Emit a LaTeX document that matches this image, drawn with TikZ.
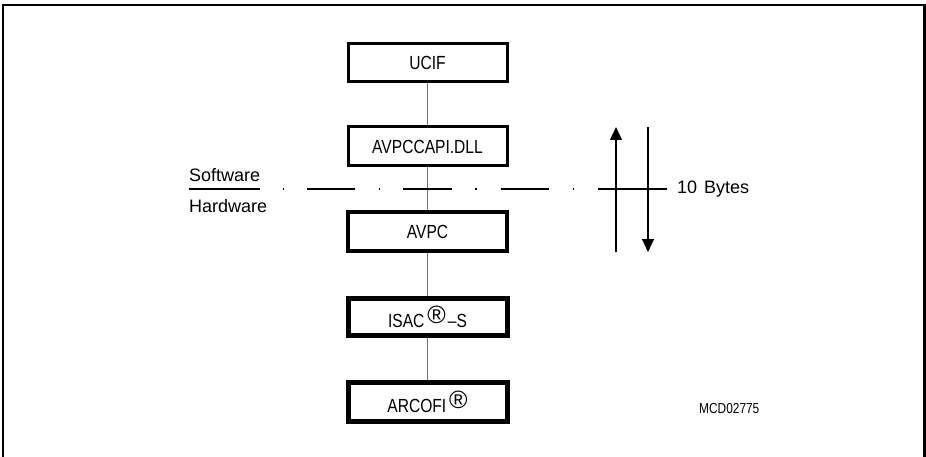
\documentclass[tikz,border=0pt]{standalone}
\usepackage{fontspec}
\setmainfont{Liberation Sans}
\usetikzlibrary{arrows.meta}
\newcommand{\regmk}{\raisebox{4pt}{\fontsize{25}{25}\selectfont ®}}
\newcommand{\nar}[1]{\scalebox{0.82}[1]{#1}}
\begin{document}
\begin{tikzpicture}[x=1pt,y=-1pt,
  blk/.style={draw,minimum width=159pt,inner sep=0pt,font=\fontsize{19}{19}\selectfont},
  thinb/.style={blk,line width=3pt},
  midb/.style={blk,line width=4pt},
  thickb/.style={blk,line width=5pt},
  conn/.style={draw=black!55,line width=1.5pt},
  lbl/.style={anchor=west,inner sep=0pt,font=\fontsize{18}{18}\selectfont},
  arr/.style={line width=1.2pt,-{Triangle[width=12pt,length=13pt]}}]
\useasboundingbox (0,0) rectangle (926,457);
\draw[line width=2.5pt] (3,457) -- (3,5) -- (924.5,5) -- (924.5,457);
\node[thinb,minimum height=38pt] (ucif) at (427.5,62.5) {\nar{UCIF}};
\node[thinb,minimum height=39pt] (api) at (427.5,146.5) {\nar{AVPCCAPI.DLL}};
\node[midb,minimum height=39pt] (avpc) at (427.5,231.5) {\nar{AVPC}};
\node[thickb,minimum height=37pt] (isac) at (427.5,316.5) {\nar{ISAC}\hspace{3pt}\regmk\hspace{2pt}\nar{–S}};
\node[thickb,minimum height=39pt] (arco) at (427.5,402) {\nar{ARCOFI}\hspace{3pt}\regmk};
\draw[conn] (ucif) -- (api);
\draw[conn] (api) -- (avpc);
\draw[conn] (avpc) -- (isac);
\draw[conn] (isac) -- (arco);
\coordinate (dl) at (189,189);
\coordinate (dr) at (667,189);
\draw[line width=1.2pt,dash pattern=on 71pt off 23pt on 1.2pt off 23pt on 48pt off 24pt on 1.2pt off 23pt on 49pt off 23pt on 1.2pt off 24pt on 48pt off 24pt on 1.2pt off 24pt on 72pt off 10pt] (dl) -- (dr);
\node[lbl] (sw) at (189,175) {Software};
\node[lbl] (hw) at (189,206) {Hardware};
\node[lbl] (bytes) at (677,189) {10\hspace{7pt}Bytes};
\coordinate (ua) at (616,252);
\coordinate (ub) at (616,127);
\coordinate (da) at (648,127);
\coordinate (db) at (648,252);
\draw[arr] (ua) -- (ub);
\draw[arr] (da) -- (db);
\node[lbl,font=\fontsize{14.5}{14.5}\selectfont] (mcd) at (699,409) {\nar{MCD02775}};
\end{tikzpicture}
\end{document}
